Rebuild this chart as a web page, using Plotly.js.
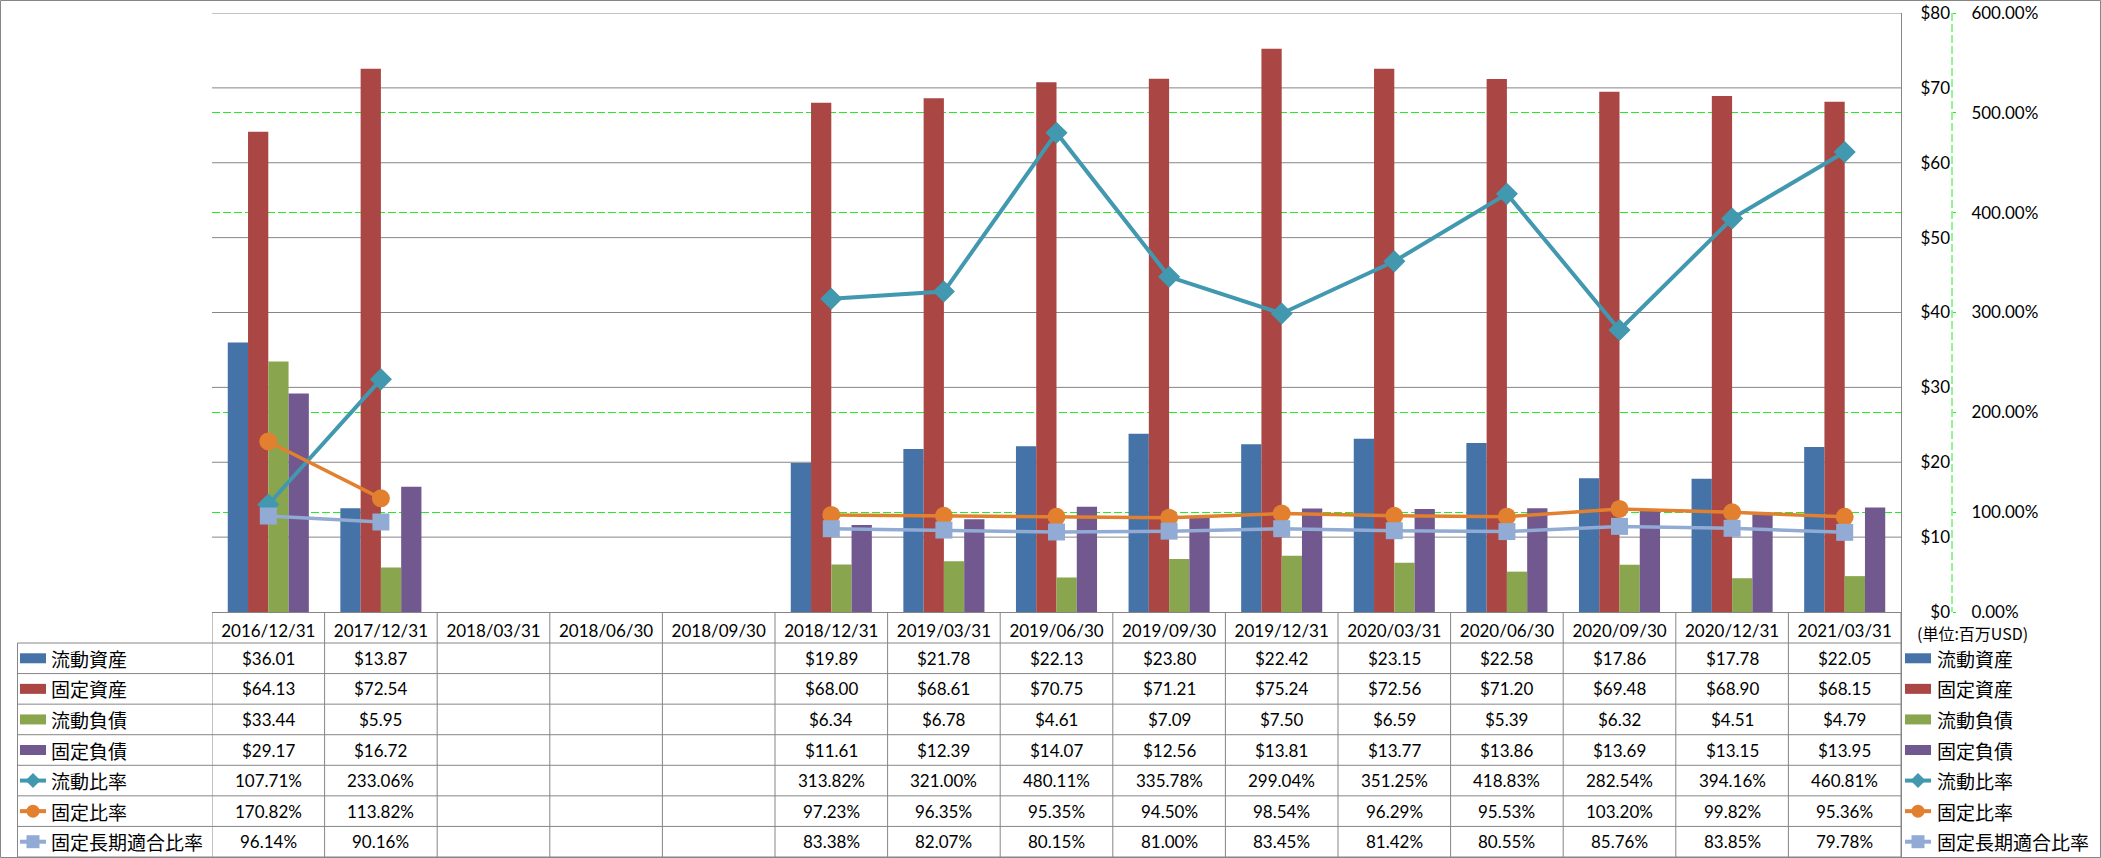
<!DOCTYPE html>
<html><head><meta charset="utf-8">
<script src="https://cdn.plot.ly/plotly-3.0.1.min.js"></script>
<style>html,body{margin:0;padding:0;background:#fff;}</style>
</head><body>
<div id="chart" style="width:2101px;height:858px"></div>
<script>
const categories = ['2016/12/31','2017/12/31','2018/03/31','2018/06/30','2018/09/30','2018/12/31','2019/03/31','2019/06/30','2019/09/30','2019/12/31','2020/03/31','2020/06/30','2020/09/30','2020/12/31','2021/03/31'];
const currentAssets   = [36.01, 13.87, null, null, null, 19.89, 21.78, 22.13, 23.80, 22.42, 23.15, 22.58, 17.86, 17.78, 22.05];
const fixedAssets     = [64.13, 72.54, null, null, null, 68.00, 68.61, 70.75, 71.21, 75.24, 72.56, 71.20, 69.48, 68.90, 68.15];
const currentLiab     = [33.44, 5.95, null, null, null, 6.34, 6.78, 4.61, 7.09, 7.50, 6.59, 5.39, 6.32, 4.51, 4.79];
const fixedLiab       = [29.17, 16.72, null, null, null, 11.61, 12.39, 14.07, 12.56, 13.81, 13.77, 13.86, 13.69, 13.15, 13.95];
const currentRatio    = [107.71, 233.06, null, null, null, 313.82, 321.00, 480.11, 335.78, 299.04, 351.25, 418.83, 282.54, 394.16, 460.81];
const fixedRatio      = [170.82, 113.82, null, null, null, 97.23, 96.35, 95.35, 94.50, 98.54, 96.29, 95.53, 103.20, 99.82, 95.36];
const fixedLongRatio  = [96.14, 90.16, null, null, null, 83.38, 82.07, 80.15, 81.00, 83.45, 81.42, 80.55, 85.76, 83.85, 79.78];
const seriesNames = ['流動資産','固定資産','流動負債','固定負債','流動比率','固定比率','固定長期適合比率'];
const unitLabel = '(単位:百万USD)';
const dollarMax = 80, dollarStep = 10;
const pctMax = 600, pctStep = 100;

const W = 2101, H = 858;
const px = x => x / W;
const py = y => 1 - y / H;

const colors = ['#4572A7','#AA4643','#89A54E','#71588F','#4198AF','#E2802F','#91ABD5'];
const gridGray = '#868686';
const green = '#22EE22';
const numFont = 'Lato, "Noto Sans", sans-serif';
const cjkFont = '"Noto Sans CJK JP", "Noto Sans", sans-serif';

const plotTop = 13, plotBottom = 612, plotLeft = 212, plotRight = 1901;
const tableTop = 643, rowH = (857 - 643) / 7;

const barSeries = [currentAssets, fixedAssets, currentLiab, fixedLiab];
const lineSeries = [currentRatio, fixedRatio, fixedLongRatio];
const symbols = ['diamond','circle','square'];
const msizes = [17, 18, 17];
const lwidths = [4, 3.5, 3.5];

const traces = [];
barSeries.forEach((vals, i) => {
  traces.push({type:'bar', name: seriesNames[i], x: categories, y: vals, xaxis:'x', yaxis:'y',
    marker:{color: colors[i]}, showlegend:false, hoverinfo:'skip'});
});
lineSeries.forEach((vals, i) => {
  traces.push({type:'scatter', mode:'lines+markers', name: seriesNames[4+i], x: categories, y: vals,
    xaxis:'x', yaxis:'y2', connectgaps:false,
    line:{color: colors[4+i], width: lwidths[i]},
    marker:{symbol: symbols[i], size: msizes[i], color: colors[4+i]},
    showlegend:false, hoverinfo:'skip'});
});

const shapes = [];
const annotations = [];
// gray dollar gridlines, drawn between the grid layer and the traces so they cover the green percent grid
for (let v = dollarStep; v <= dollarMax; v += dollarStep) {
  shapes.push({type:'line', layer:'between', xref:'x', yref:'y', x0:-0.5, x1:categories.length-0.5, y0:v, y1:v,
    line:{color:gridGray, width:1}});
}
// outer frame
shapes.push({type:'rect', xref:'paper', yref:'paper', x0:px(0.5), x1:px(2100.5), y0:py(0.5), y1:py(857.5), line:{color:gridGray, width:1}});
// right plot border
shapes.push({type:'line', xref:'paper', yref:'paper', x0:px(plotRight+0.5), x1:px(plotRight+0.5), y0:py(plotTop), y1:py(857), line:{color:gridGray, width:1}});
// green dashed axis line
shapes.push({type:'line', xref:'paper', yref:'paper', x0:px(1952), x1:px(1952), y0:py(plotTop), y1:py(plotBottom), line:{color:green, width:1, dash:'8px,3px'}});
// table verticals at category boundaries
for (let j = 0; j <= categories.length; j++) {
  shapes.push({type:'line', xref:'x', yref:'paper', x0:j-0.5, x1:j-0.5, y0:py(plotBottom), y1:py(857), line:{color:gridGray, width:1}});
}
// label column left
shapes.push({type:'line', xref:'paper', yref:'paper', x0:px(17.5), x1:px(17.5), y0:py(tableTop), y1:py(857), line:{color:gridGray, width:1}});
// horizontal rows
for (let k = 0; k <= 7; k++) {
  const y = tableTop + k * rowH;
  shapes.push({type:'line', xref:'paper', yref:'paper', x0:px(17.5), x1:px(plotRight+0.5), y0:py(y), y1:py(y), line:{color:gridGray, width:1}});
}

function addKey(i, x0, yc) {
  const x1 = x0 + 26, xc = x0 + 13;
  if (i < 4) {
    shapes.push({type:'rect', xref:'paper', yref:'paper', x0:px(x0), x1:px(x1), y0:py(yc+5), y1:py(yc-5), line:{width:0}, fillcolor:colors[i]});
  } else {
    shapes.push({type:'line', xref:'paper', yref:'paper', x0:px(x0), x1:px(x1), y0:py(yc), y1:py(yc), line:{color:colors[i], width:4}});
    const c = colors[i];
    if (i === 4) {
      const r = 7.5;
      shapes.push({type:'path', xref:'paper', yref:'paper',
        path:`M ${px(xc-r)} ${py(yc)} L ${px(xc)} ${py(yc-r)} L ${px(xc+r)} ${py(yc)} L ${px(xc)} ${py(yc+r)} Z`,
        fillcolor:c, line:{width:0}});
    } else if (i === 5) {
      const r = 6.5;
      shapes.push({type:'circle', xref:'paper', yref:'paper', x0:px(xc-r), x1:px(xc+r), y0:py(yc+r), y1:py(yc-r), fillcolor:c, line:{width:0}});
    } else {
      const r = 6.5;
      shapes.push({type:'rect', xref:'paper', yref:'paper', x0:px(xc-r), x1:px(xc+r), y0:py(yc+r), y1:py(yc-r), fillcolor:c, line:{width:0}});
    }
  }
}

const allSeries = [currentAssets, fixedAssets, currentLiab, fixedLiab, currentRatio, fixedRatio, fixedLongRatio];
allSeries.forEach((vals, i) => {
  const yc = tableTop + (i + 0.5) * rowH;
  addKey(i, 20, yc);
  annotations.push({xref:'paper', yref:'paper', x:px(49), y:py(yc), xanchor:'left', yanchor:'middle', showarrow:false,
    text: seriesNames[i], font:{family:cjkFont, size:19, color:'#000'}});
  addKey(i, 1905, yc);
  annotations.push({xref:'paper', yref:'paper', x:px(1935), y:py(yc), xanchor:'left', yanchor:'middle', showarrow:false,
    text: seriesNames[i], font:{family:cjkFont, size:19, color:'#000'}});
  vals.forEach((v, j) => {
    if (v === null) return;
    const t = i < 4 ? '$' + v.toFixed(2) : v.toFixed(2) + '%';
    annotations.push({xref:'x', yref:'paper', x:categories[j], y:py(yc), xanchor:'center', yanchor:'middle', showarrow:false,
      text:t, font:{family:numFont, size:17, color:'#000'}});
  });
});
annotations.push({xref:'paper', yref:'paper', x:px(1915), y:py(633), xanchor:'left', yanchor:'middle', showarrow:false,
  text: unitLabel, font:{family:cjkFont, size:16, color:'#000'}});

const layout = {
  width: W, height: H,
  margin:{l:0, r:0, t:0, b:0},
  paper_bgcolor:'#fff', plot_bgcolor:'rgba(0,0,0,0)',
  barmode:'group', bargap:0.28, bargroupgap:0,
  showlegend:false,
  font:{family:numFont, size:17, color:'#000'},
  xaxis:{type:'category', categoryorder:'array', categoryarray:categories, range:[-0.5, categories.length-0.5],
    domain:[px(plotLeft), px(plotRight)], showgrid:false, showline:true, linecolor:gridGray, linewidth:1,
    ticks:'', tickfont:{family:numFont, size:17, color:'#000'}, ticklabelstandoff:4, zeroline:false, fixedrange:true},
  yaxis:{range:[0,dollarMax], dtick:dollarStep, tickprefix:'$', tickformat:'d', domain:[py(plotBottom), py(plotTop)],
    anchor:'free', position:px(1952), side:'left', showline:false, ticks:'', showgrid:false,
    zeroline:false, tickfont:{family:numFont, size:17, color:'#000'}, ticklabelstandoff:2},
  yaxis2:{range:[0,pctMax], dtick:pctStep, tickformat:'.2f', ticksuffix:'%', overlaying:'y', anchor:'free', position:px(1952), side:'right',
    showline:false, ticks:'outside', ticklen:3, tickcolor:green, showgrid:true, gridcolor:green, gridwidth:1, griddash:'8px,3px',
    zeroline:false, tickfont:{family:numFont, size:17, color:'#000'}, ticklabelstandoff:12},
  shapes, annotations
};

Plotly.newPlot('chart', traces, layout, {displayModeBar:false, staticPlot:true});
</script>
</body></html>
